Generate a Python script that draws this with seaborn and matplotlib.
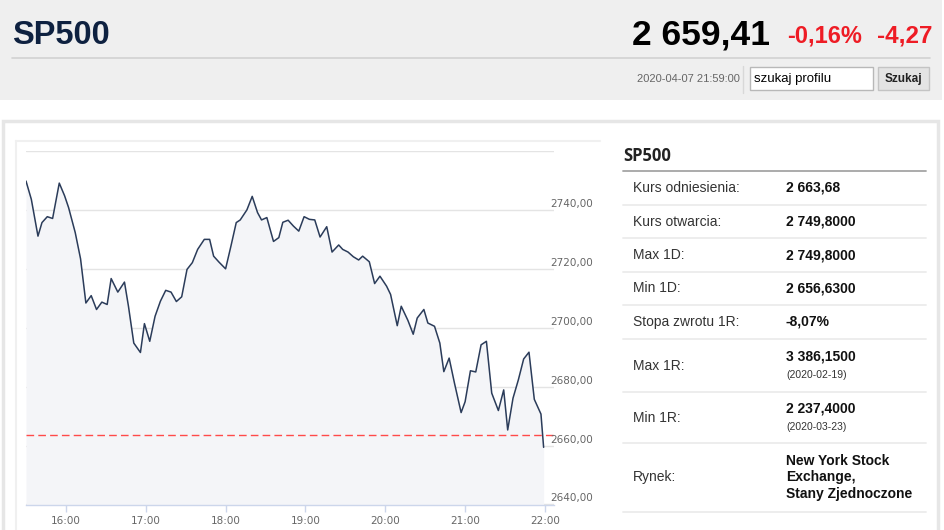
import pandas as pd
import matplotlib
matplotlib.use("Agg")
import matplotlib.pyplot as plt
import matplotlib.dates as mdates
from matplotlib.patches import Rectangle
import seaborn as sns

# intraday quotes (2020-04-07)
times = ["15:30", "15:34", "15:39", "15:42", "15:46", "15:50", "15:55", "15:59", "16:02", "16:07",
         "16:11", "16:15", "16:19", "16:23", "16:27", "16:31", "16:34", "16:39", "16:44", "16:47",
         "16:51", "16:56", "16:59", "17:03", "17:07", "17:11", "17:15", "17:19", "17:23", "17:27",
         "17:31", "17:35", "17:39", "17:44", "17:48", "17:51", "17:55", "18:00", "18:04", "18:08",
         "18:11", "18:16", "18:20", "18:24", "18:27", "18:31", "18:36", "18:40", "18:43", "18:47",
         "18:51", "18:55", "18:59", "19:03", "19:07", "19:11", "19:16", "19:20", "19:25", "19:28",
         "19:32", "19:36", "19:40", "19:43", "19:48", "19:52", "19:56", "20:01", "20:04", "20:09",
         "20:12", "20:17", "20:21", "20:24", "20:29", "20:32", "20:37", "20:41", "20:44", "20:48",
         "20:52", "20:57", "21:00", "21:04", "21:08", "21:12", "21:16", "21:20", "21:25", "21:29",
         "21:32", "21:36", "21:40", "21:44", "21:48", "21:52", "21:57", "21:59"]
prices = [2749.8, 2743.6, 2731.1, 2735.7, 2737.7, 2737.1, 2749.1, 2744.8, 2740.8, 2732.3,
          2723.4, 2708.4, 2710.9, 2706.2, 2708.7, 2707.9, 2716.7, 2712.1, 2715.5, 2707.3,
          2694.8, 2691.6, 2701.4, 2695.4, 2703.9, 2709.0, 2712.7, 2712.1, 2708.9, 2710.5,
          2719.8, 2722.1, 2726.6, 2730.0, 2730.0, 2724.3, 2722.3, 2720.0, 2727.7, 2735.7,
          2736.6, 2740.0, 2744.6, 2739.1, 2736.6, 2737.4, 2729.3, 2730.6, 2735.8, 2736.5,
          2734.5, 2732.8, 2737.7, 2736.8, 2736.6, 2730.8, 2734.3, 2725.7, 2728.1, 2726.6,
          2725.7, 2724.1, 2723.0, 2724.3, 2722.4, 2715.0, 2717.5, 2714.1, 2711.3, 2700.7,
          2707.3, 2702.5, 2697.8, 2703.3, 2706.2, 2701.6, 2700.5, 2694.8, 2685.1, 2689.7,
          2681.2, 2671.2, 2674.9, 2685.4, 2685.0, 2694.2, 2695.4, 2677.8, 2671.9, 2678.9,
          2665.3, 2676.1, 2682.3, 2689.4, 2691.7, 2675.7, 2670.7, 2659.41]
ref_price = 2663.68
y_ticks = [2640, 2660, 2680, 2700, 2720, 2740, 2760]
y_labels = ["2640,00", "2660,00", "2680,00", "2700,00", "2720,00", "2740,00", ""]
x_ticks = ["16:00", "17:00", "18:00", "19:00", "20:00", "21:00", "22:00"]
day = "2020-04-07"

name = "SP500"
last_price = "2 659,41"
change_pct = "-0,16%"
change_abs = "-4,27"
stamp = "2020-04-07 21:59:00"

row_labels = ["Kurs odniesienia:", "Kurs otwarcia:", "Max 1D:", "Min 1D:",
              "Stopa zwrotu 1R:", "Max 1R:", "Min 1R:", "Rynek:"]
row_values = ["2 663,68", "2 749,8000", "2 749,8000", "2 656,6300",
              "-8,07%", "3 386,1500", "2 237,4000", "New York Stock\nExchange,\nStany Zjednoczone"]
row_notes = ["", "", "", "", "", "(2020-02-19)", "(2020-03-23)", ""]

sns.set_style("white")
plt.rcParams['font.family'] = ['DejaVu Sans']

df = pd.DataFrame({'time': pd.to_datetime([day + " " + t for t in times]), 'price': prices})

fig = plt.figure(figsize=(9.45, 5.3), dpi=100)
fig.patch.set_facecolor('white')

# page decorations, drawn in pixel coordinates
bg = fig.add_axes([0, 0, 1, 1], zorder=0)
bg.set_xlim(0, 945)
bg.set_ylim(530, 0)
bg.axis('off')

arial = ['Liberation Sans', 'DejaVu Sans']

bg.add_patch(Rectangle((0, 0), 942, 100, facecolor='#efefef', edgecolor='none'))
bg.plot([12, 930], [58, 58], color='#d2d2d2', lw=1.2)
bg.text(12, 44, name, family=arial, weight='bold', fontsize=23.5, color='#0e2140', va='baseline')
bg.text(770, 44, last_price, family=arial, weight='bold', fontsize=25.5, color='black',
        ha='right', va='baseline')
bg.text(862, 43, change_pct, family=arial, weight='bold', fontsize=17, color='#ee1c25',
        ha='right', va='baseline')
bg.text(933, 43, change_abs, family=arial, weight='bold', fontsize=17.5, color='#ee1c25',
        ha='right', va='baseline')
bg.text(740, 79, stamp, family=arial, fontsize=8, color='#666666', ha='right', va='center')
bg.plot([743, 743], [66, 93], color='#d8d8d8', lw=1)
bg.add_patch(Rectangle((750, 67), 123, 23, facecolor='white', edgecolor='#b8b8b8', lw=1))
bg.text(754, 79, "szukaj profilu", family=arial, fontsize=9.5, color='black', va='center')
bg.add_patch(Rectangle((878, 67), 51, 23, facecolor='#e4e4e4', edgecolor='#c4c4c4', lw=1))
bg.text(903.5, 79, "Szukaj", family=arial, weight='bold', fontsize=8.5, color='#222222',
        ha='center', va='center')

# main panel
bg.add_patch(Rectangle((3, 121), 935, 420, facecolor='white', edgecolor='#e6e6e6', lw=2.5))
bg.plot([16, 16], [141, 540], color='#f0f0f0', lw=1.5)
bg.plot([16, 600], [141, 141], color='#f0f0f0', lw=1.5)

# info table
bg.text(623, 161, name, family=['Open Sans', 'DejaVu Sans'], weight='bold', fontsize=12,
        color='#222222', va='baseline')
bg.plot([623, 926], [171, 171], color='#a5a5a5', lw=1.3)
edges = [171, 205, 238, 272, 305, 339, 392, 443, 512]
for i, lab in enumerate(row_labels):
    mid = (edges[i] + edges[i + 1]) / 2
    bg.text(633, mid, lab, family=arial, fontsize=10, color='#333333', va='center')
    if row_notes[i]:
        bg.text(786, mid - 9, row_values[i], family=arial, weight='bold', fontsize=10,
                color='#111111', va='center')
        bg.text(786, mid + 10, row_notes[i], family=arial, fontsize=7.5, color='#333333', va='center')
    else:
        bg.text(786, mid, row_values[i], family=arial, weight='bold', fontsize=10,
                color='#111111', va='center', linespacing=1.27)
    bg.plot([623, 926], [edges[i + 1], edges[i + 1]], color='#ececec', lw=1.3)

# chart
ax = fig.add_axes([26 / 945, 1 - 504.5 / 530, 528 / 945, 353.5 / 530], zorder=2)
ax.set_facecolor('white')
ax.fill_between(df['time'], df['price'], y_ticks[0], color='#f4f5f8', lw=0, zorder=1)
sns.lineplot(data=df, x='time', y='price', ax=ax, color='#2b3c5a', lw=1.1, zorder=4)
ax.axhline(ref_price, color='#ff4a4a', lw=1, dashes=(5.5, 3), zorder=3)

ax.set_ylim(y_ticks[0], y_ticks[-1])
ax.set_xlim(pd.Timestamp(day + " 15:30"), pd.Timestamp(day + " 22:06:48"))
ax.set_yticks(y_ticks)
ax.yaxis.grid(True, color='#e4e4e4', lw=1)
ax.set_axisbelow(True)
ax.tick_params(axis='y', left=False, right=False, labelleft=False)
for v, lab in zip(y_ticks, y_labels):
    ax.annotate(lab, xy=(1, v), xycoords=('axes fraction', 'data'), xytext=(-4, 6),
                textcoords='offset pixels', ha='left', va='center', fontsize=7.5, color='#666666')

ax.set_xticks(pd.to_datetime([day + " " + t for t in x_ticks]))
ax.xaxis.set_major_formatter(mdates.DateFormatter('%H:%M'))
ax.tick_params(axis='x', bottom=True, length=5, width=1, color='#ccd6eb', labelsize=7.5,
               labelcolor='#666666', pad=3)
for s in ['top', 'left', 'right']:
    ax.spines[s].set_visible(False)
ax.spines['bottom'].set_color('#ccd6eb')
ax.spines['bottom'].set_linewidth(1)
ax.set_xlabel('')
ax.set_ylabel('')

fig.savefig('out.png', dpi=100)
